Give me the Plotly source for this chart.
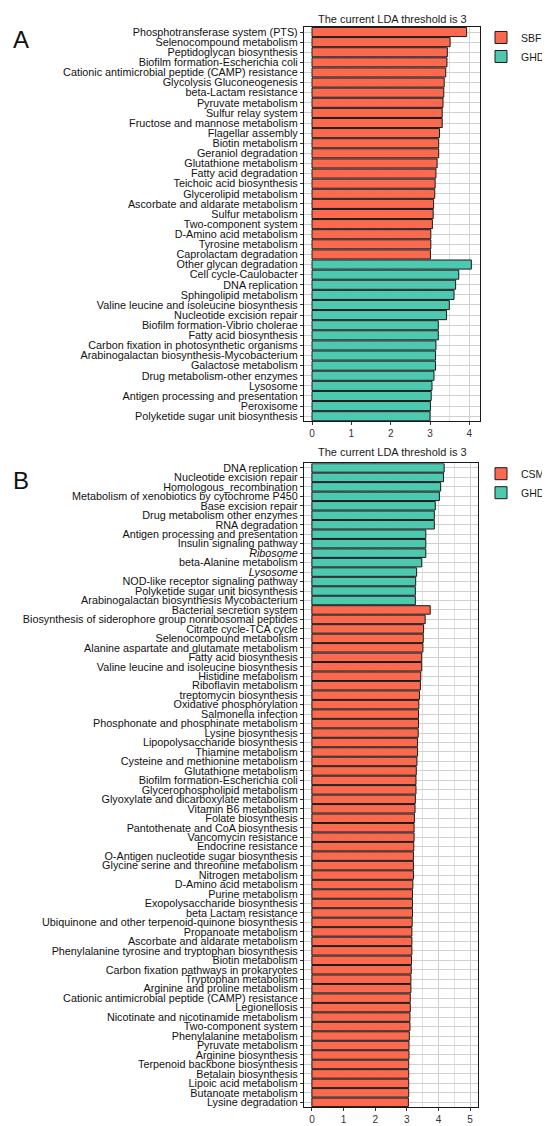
import plotly.graph_objects as go

RED = '#FB6A4E'
GREEN = '#4DC9B0'

# ---- panel A : SBF vs GHDF ----
a_sbf_names = [
    'Phosphotransferase system (PTS)', 'Selenocompound metabolism', 'Peptidoglycan biosynthesis',
    'Biofilm formation-Escherichia coli', 'Cationic antimicrobial peptide (CAMP) resistance',
    'Glycolysis Gluconeogenesis', 'beta-Lactam resistance', 'Pyruvate metabolism',
    'Sulfur relay system', 'Fructose and mannose metabolism', 'Flagellar assembly',
    'Biotin metabolism', 'Geraniol degradation', 'Glutathione metabolism',
    'Fatty acid degradation', 'Teichoic acid biosynthesis', 'Glycerolipid metabolism',
    'Ascorbate and aldarate metabolism', 'Sulfur metabolism', 'Two-component system',
    'D-Amino acid metabolism', 'Tyrosine metabolism', 'Caprolactam degradation',
]
a_sbf_lda = [3.93, 3.51, 3.44, 3.43, 3.40, 3.36, 3.35, 3.33, 3.31, 3.31, 3.24, 3.22, 3.22,
             3.18, 3.15, 3.13, 3.12, 3.09, 3.08, 3.06, 3.02, 3.02, 3.01]

a_ghdf_names = [
    'Other glycan degradation', 'Cell cycle-Caulobacter', 'DNA replication',
    'Sphingolipid metabolism', 'Valine leucine and isoleucine biosynthesis',
    'Nucleotide excision repair', 'Biofilm formation-Vibrio cholerae', 'Fatty acid biosynthesis',
    'Carbon fixation in photosynthetic organisms', 'Arabinogalactan biosynthesis-Mycobacterium',
    'Galactose metabolism', 'Drug metabolism-other enzymes', 'Lysosome',
    'Antigen processing and presentation', 'Peroxisome', 'Polyketide sugar unit biosynthesis',
]
a_ghdf_lda = [4.05, 3.73, 3.65, 3.61, 3.49, 3.42, 3.21, 3.21, 3.15, 3.14, 3.14, 3.10, 3.05,
              3.03, 3.01, 3.00]

# ---- panel B : CSM vs GHDF ----
b_ghdf_names = [
    'DNA replication', 'Nucleotide excision repair', 'Homologous_recombination',
    'Metabolism of xenobiotics by cytochrome P450', 'Base excision repair',
    'Drug metabolism other enzymes', 'RNA degradation', 'Antigen processing and presentation',
    'Insulin signaling pathway', 'Ribosome', 'beta-Alanine metabolism', 'Lysosome',
    'NOD-like receptor signaling pathway', 'Polyketide sugar unit biosynthesis',
    'Arabinogalactan biosynthesis Mycobacterium',
]
b_ghdf_lda = [4.18, 4.16, 4.07, 4.03, 3.90, 3.87, 3.87, 3.60, 3.60, 3.60, 3.47, 3.31, 3.28,
              3.27, 3.27]

b_csm_names = [
    'Bacterial secretion system', 'Biosynthesis of siderophore group nonribosomal peptides',
    'Citrate cycle-TCA cycle', 'Selenocompound metabolism',
    'Alanine aspartate and glutamate metabolism', 'Fatty acid biosynthesis',
    'Valine leucine and isoleucine biosynthesis', 'Histidine metabolism', 'Riboflavin metabolism',
    'treptomycin biosynthesis', 'Oxidative phosphorylation', 'Salmonella infection',
    'Phosphonate and phosphinate metabolism', 'Lysine biosynthesis',
    'Lipopolysaccharide biosynthesis', 'Thiamine metabolism', 'Cysteine and methionine metabolism',
    'Glutathione metabolism', 'Biofilm formation-Escherichia coli',
    'Glycerophospholipid metabolism', 'Glyoxylate and dicarboxylate metabolism',
    'Vitamin B6 metabolism', 'Folate biosynthesis', 'Pantothenate and CoA biosynthesis',
    'Vancomycin resistance', 'Endocrine resistance', 'O-Antigen nucleotide sugar biosynthesis',
    'Glycine serine and threonine metabolism', 'Nitrogen metabolism', 'D-Amino acid metabolism',
    'Purine metabolism', 'Exopolysaccharide biosynthesis', 'beta Lactam resistance',
    'Ubiquinone and other terpenoid-quinone biosynthesis', 'Propanoate metabolism',
    'Ascorbate and aldarate metabolism', 'Phenylalanine tyrosine and tryptophan biosynthesis',
    'Biotin metabolism', 'Carbon fixation pathways in prokaryotes', 'Tryptophan metabolism',
    'Arginine and proline metabolism', 'Cationic antimicrobial peptide (CAMP) resistance',
    'Legionellosis', 'Nicotinate and nicotinamide metabolism', 'Two-component system',
    'Phenylalanine metabolism', 'Pyruvate metabolism', 'Arginine biosynthesis',
    'Terpenoid backbone biosynthesis', 'Betalain biosynthesis', 'Lipoic acid metabolism',
    'Butanoate metabolism', 'Lysine degradation',
]
b_csm_lda = [3.74, 3.58, 3.53, 3.52, 3.51, 3.47, 3.47, 3.44, 3.43, 3.40, 3.38, 3.37, 3.37,
             3.36, 3.34, 3.34, 3.32, 3.30, 3.29, 3.29, 3.27, 3.26, 3.24, 3.23, 3.23, 3.22,
             3.21, 3.21, 3.21, 3.19, 3.18, 3.18, 3.18, 3.17, 3.16, 3.16, 3.16, 3.15, 3.14,
             3.13, 3.13, 3.11, 3.11, 3.10, 3.10, 3.08, 3.07, 3.07, 3.06, 3.06, 3.06, 3.06,
             3.05]

b_italic = {'Ribosome', 'Lysosome'}

W, H = 550, 1126
FONT = 'Liberation Sans, Arial, sans-serif'


def px_x(p):
    return p / W


def px_y(p):
    return 1 - p / H


fig = go.Figure()

# panel A bars
fig.add_trace(go.Bar(x=a_sbf_lda, y=a_sbf_names, orientation='h', name='SBF',
                     marker=dict(color=RED, line=dict(color='#1a1a1a', width=1)),
                     xaxis='x', yaxis='y', legend='legend'))
fig.add_trace(go.Bar(x=a_ghdf_lda, y=a_ghdf_names, orientation='h', name='GHDF',
                     marker=dict(color=GREEN, line=dict(color='#1a1a1a', width=1)),
                     xaxis='x', yaxis='y', legend='legend'))

# panel B bars (CSM first in legend)
fig.add_trace(go.Bar(x=b_csm_lda, y=b_csm_names, orientation='h', name='CSM',
                     marker=dict(color=RED, line=dict(color='#1a1a1a', width=1)),
                     xaxis='x2', yaxis='y2', legend='legend2'))
fig.add_trace(go.Bar(x=b_ghdf_lda, y=b_ghdf_names, orientation='h', name='GHDF',
                     marker=dict(color=GREEN, line=dict(color='#1a1a1a', width=1)),
                     xaxis='x2', yaxis='y2', legend='legend2'))

a_order = a_sbf_names + a_ghdf_names
b_order = b_ghdf_names + b_csm_names
b_ticktext = [f'<i>{n}</i>' if n in b_italic else n for n in b_order]

grid = '#D0D0D0'
common_x = dict(showgrid=True, gridcolor=grid, gridwidth=1,
                minor=dict(dtick=0.5, showgrid=True, gridcolor='#E0E0E0', gridwidth=0.8),
                zeroline=False, showline=True, mirror=True, linecolor='#1a1a1a', linewidth=1.2,
                ticks='outside', ticklen=3, tickcolor='#333333', dtick=1,
                tickfont=dict(size=10, color='#333333', family=FONT))
common_y = dict(type='category', autorange='reversed', showgrid=True, gridcolor=grid,
                gridwidth=1, zeroline=False, showline=True, mirror=True, linecolor='#1a1a1a',
                linewidth=1.2, ticks='outside', ticklen=3, tickcolor='#333333',
                tickmode='array', tickfont=dict(size=10.8, color='#111111', family=FONT))

fig.update_layout(
    width=W, height=H,
    margin=dict(l=0, r=0, t=0, b=0),
    paper_bgcolor='white', plot_bgcolor='white',
    font=dict(family=FONT, color='#1a1a1a'),
    barmode='overlay', bargap=0.1,
    xaxis=dict(domain=[px_x(296), px_x(472)], anchor='y', range=[-0.2035, 4.27], **common_x),
    yaxis=dict(domain=[px_y(413), px_y(18)], anchor='x', categoryarray=a_order,
               categoryorder='array', tickvals=a_order, ticktext=a_order, **common_y),
    xaxis2=dict(domain=[px_x(296), px_x(470)], anchor='y2', range=[-0.25, 5.25], **common_x),
    yaxis2=dict(domain=[px_y(1100), px_y(455)], anchor='x2', categoryarray=b_order,
                categoryorder='array', tickvals=b_order, ticktext=b_ticktext, **common_y),
    legend=dict(x=px_x(473), y=px_y(14), xanchor='left', yanchor='top',
                font=dict(size=10.5, family=FONT), itemwidth=30, tracegroupgap=0,
                bgcolor='rgba(0,0,0,0)'),
    legend2=dict(x=px_x(473), y=px_y(451), xanchor='left', yanchor='top',
                 font=dict(size=10.5, family=FONT), itemwidth=30, tracegroupgap=0,
                 bgcolor='rgba(0,0,0,0)'),
    showlegend=True,
)

# panel titles and tags
for ypix, txt in [(10, 'The current LDA threshold is 3'), (444, 'The current LDA threshold is 3')]:
    fig.add_annotation(x=px_x(384), y=px_y(ypix), xref='paper', yref='paper', text=txt,
                       showarrow=False, xanchor='center', yanchor='middle',
                       font=dict(size=11, color='#1a1a1a', family=FONT))
for ypix, txt in [(31, 'A'), (472, 'B')]:
    fig.add_annotation(x=px_x(3), y=px_y(ypix), xref='paper', yref='paper', text=txt,
                       showarrow=False, xanchor='left', yanchor='middle',
                       font=dict(size=24, color='#111111', family=FONT))

fig.write_html('out.html')
